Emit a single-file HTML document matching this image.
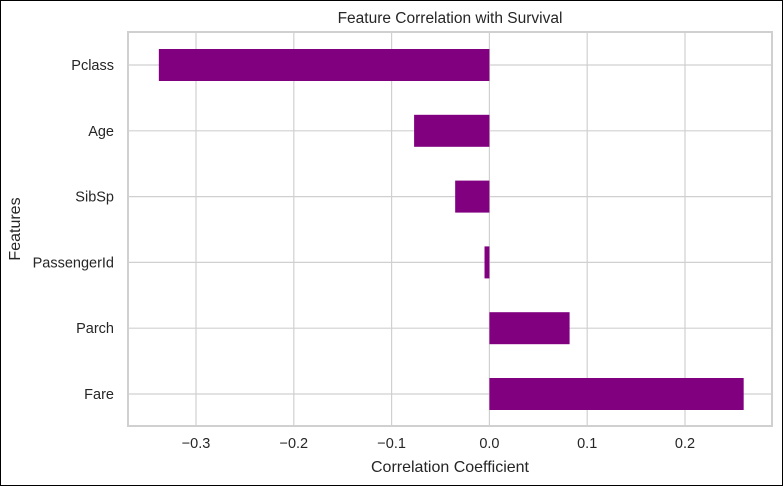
<!DOCTYPE html>
<html><head><meta charset="utf-8"><style>
body{margin:0;background:#fff}
svg{display:block;font-family:"Liberation Sans",Arial,sans-serif}
</style></head><body>
<svg id="chart" width="783" height="486">
<rect x="0.5" y="0.5" width="782" height="485" fill="#fff" stroke="#000"/>
<g id="grid"></g><g id="bars"></g><g id="axes"></g>
<text x="450" y="23" text-anchor="middle" font-size="15.5" fill="#262626">Feature Correlation with Survival</text>
<text x="450" y="472" text-anchor="middle" font-size="16" fill="#262626">Correlation Coefficient</text>
<text transform="translate(20,229) rotate(-90)" text-anchor="middle" font-size="16" fill="#262626">Features</text>
</svg>
<script>
const categories=["Pclass","Age","SibSp","PassengerId","Parch","Fare"];
const values=[-0.338,-0.077,-0.035,-0.005,0.082,0.26];
const xTicks=[-0.3,-0.2,-0.1,0.0,0.1,0.2];
const xTickLabels=["\u22120.3","\u22120.2","\u22120.1","0.0","0.1","0.2"];
const L=128,R=772,T=32,B=426;
const x=v=>489.4+v*978;
const rowStep=65.8,y=i=>65+i*rowStep;
const NS="http://www.w3.org/2000/svg";
function mk(t,a,p){const e=document.createElementNS(NS,t);for(const k in a)e.setAttribute(k,a[k]);p.appendChild(e);return e;}
const grid=document.getElementById('grid'),bars=document.getElementById('bars'),axes=document.getElementById('axes');
xTicks.forEach((v,i)=>{
 const g=mk('line',{x1:x(v),x2:x(v),y1:T,y2:B,stroke:'#d0d0d0','stroke-width':1.2},grid);
 
 
 const t=mk('text',{x:x(v),y:B+22,'text-anchor':'middle','font-size':14.5,fill:'#262626'},axes);
 t.textContent=xTickLabels[i];
 
 
});
categories.forEach((c,i)=>{
 const g=mk('line',{x1:L,x2:R,y1:y(i),y2:y(i),stroke:'#d0d0d0','stroke-width':1.2},grid);
 
 
 const v=values[i],x0=Math.min(x(0),x(v)),w=Math.abs(x(v)-x(0));
 const b=mk('rect',{x:x0,y:y(i)-16,width:w,height:32,fill:'#800080'},bars);
 
 
 const t=mk('text',{x:L-14,y:y(i)+5,'text-anchor':'end','font-size':14.5,fill:'#262626'},axes);
 t.textContent=c;
 
 
});
const f=mk('rect',{x:L,y:T,width:R-L,height:B-T,fill:'none',stroke:'#d0d0d0','stroke-width':2},axes);


</script>
</body></html>
